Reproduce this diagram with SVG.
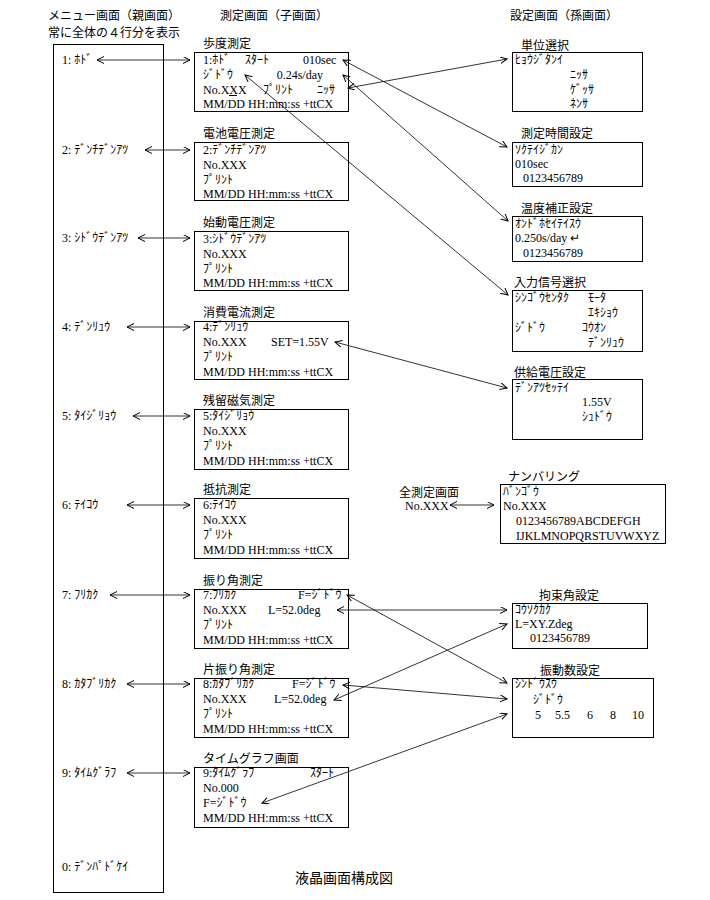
<svg xmlns="http://www.w3.org/2000/svg" width="710" height="900" viewBox="0 0 710 900">
<defs>
<style>
.bx{fill:none;stroke:#000;stroke-width:1}
.t{font-family:"Liberation Serif","Noto Sans CJK JP",serif;font-size:12px;fill:#000}
.h{font-family:"Noto Sans CJK JP","Noto Sans CJK SC",sans-serif;font-size:12px;fill:#000}
.c{stroke:#000;stroke-width:0.8;fill:none;marker-start:url(#ah);marker-end:url(#ah)}
</style>
<marker id="ah" markerUnits="userSpaceOnUse" markerWidth="9" markerHeight="8" refX="7" refY="3.5" orient="auto-start-reverse">
<path d="M0,0 L7,3.5 L0,7" fill="none" stroke="#000" stroke-width="1"/>
</marker>
</defs>
<rect width="710" height="900" fill="#fff"/>

<g id="headers">
<text class="h" x="48" y="19.5">メニュー画面（親画面）</text>
<text class="h" x="48" y="36.5">常に全体の４行分を表示</text>
<text class="h" x="220" y="19.5">測定画面（子画面）</text>
<text class="h" x="510" y="19.5">設定画面（孫画面）</text>
<text class="h" x="295" y="883" style="font-size:14px">液晶画面構成図</text>
</g>

<g id="menu">
<rect class="bx" x="53.5" y="44.5" width="110" height="848"/>
<text class="t" x="62" y="64">1: ﾎﾄﾞ</text>
<text class="t" x="62" y="154">2: ﾃﾞﾝﾁﾃﾞﾝｱﾂ</text>
<text class="t" x="62" y="242">3: ｼﾄﾞｳﾃﾞﾝｱﾂ</text>
<text class="t" x="62" y="331">4: ﾃﾞﾝﾘｭｳ</text>
<text class="t" x="62" y="420">5: ﾀｲｼﾞﾘｮｳ</text>
<text class="t" x="62" y="509">6: ﾃｲｺｳ</text>
<text class="t" x="62" y="599">7: ﾌﾘｶｸ</text>
<text class="t" x="62" y="688">8: ｶﾀﾌﾞﾘｶｸ</text>
<text class="t" x="62" y="777">9: ﾀｲﾑｸﾞﾗﾌ</text>
<text class="t" x="62" y="871">0: ﾃﾞﾝﾊﾟﾄﾞｹｲ</text>
</g>

<g id="child1">
<text class="h" x="203" y="48">歩度測定</text>
<rect class="bx" x="194.5" y="52.5" width="154" height="59"/>
<text class="t" x="203" y="64">1:ﾎﾄﾞ</text>
<text class="t" x="245" y="64">ｽﾀｰﾄ</text>
<text class="t" x="303" y="64">010sec</text>
<text class="t" x="203" y="79">ｼﾞﾄﾞｳ</text>
<text class="t" x="323" y="79" text-anchor="end">0.24s/day</text>
<text class="t" x="203" y="94">No.XXX</text>
<line x1="229" y1="95.5" x2="237" y2="95.5" stroke="#000" stroke-width="1"/>
<text class="t" x="263" y="94">ﾌﾟﾘﾝﾄ</text>
<text class="t" x="317" y="94">ﾆｯｻ</text>
<text class="t" x="203" y="108">MM/DD HH:mm:ss +ttCX</text>
</g>

<g id="child2">
<text class="h" x="203" y="138">電池電圧測定</text>
<rect class="bx" x="194.5" y="142.5" width="154" height="58"/>
<text class="t" x="203" y="154">2:ﾃﾞﾝﾁﾃﾞﾝｱﾂ</text>
<text class="t" x="203" y="169">No.XXX</text>
<text class="t" x="203" y="184">ﾌﾟﾘﾝﾄ</text>
<text class="t" x="203" y="198">MM/DD HH:mm:ss +ttCX</text>
</g>

<g id="child3">
<text class="h" x="203" y="227">始動電圧測定</text>
<rect class="bx" x="194.5" y="231.5" width="154" height="59"/>
<text class="t" x="203" y="243">3:ｼﾄﾞｳﾃﾞﾝｱﾂ</text>
<text class="t" x="203" y="258">No.XXX</text>
<text class="t" x="203" y="273">ﾌﾟﾘﾝﾄ</text>
<text class="t" x="203" y="287">MM/DD HH:mm:ss +ttCX</text>
</g>

<g id="child4">
<text class="h" x="203" y="317">消費電流測定</text>
<rect class="bx" x="194.5" y="321.5" width="154" height="58"/>
<text class="t" x="203" y="331">4:ﾃﾞﾝﾘｭｳ</text>
<text class="t" x="203" y="346">No.XXX</text>
<text class="t" x="271" y="346">SET=1.55V</text>
<text class="t" x="203" y="361">ﾌﾟﾘﾝﾄ</text>
<text class="t" x="203" y="376">MM/DD HH:mm:ss +ttCX</text>
</g>

<g id="child5">
<text class="h" x="203" y="405">残留磁気測定</text>
<rect class="bx" x="194.5" y="409.5" width="154" height="60"/>
<text class="t" x="203" y="420">5:ﾀｲｼﾞﾘｮｳ</text>
<text class="t" x="203" y="435">No.XXX</text>
<text class="t" x="203" y="450">ﾌﾟﾘﾝﾄ</text>
<text class="t" x="203" y="465">MM/DD HH:mm:ss +ttCX</text>
</g>

<g id="child6">
<text class="h" x="203" y="494">抵抗測定</text>
<rect class="bx" x="194.5" y="498.5" width="154" height="60"/>
<text class="t" x="203" y="509">6:ﾃｲｺｳ</text>
<text class="t" x="203" y="524">No.XXX</text>
<text class="t" x="203" y="539">ﾌﾟﾘﾝﾄ</text>
<text class="t" x="203" y="554">MM/DD HH:mm:ss +ttCX</text>
</g>

<g id="child7">
<text class="h" x="203" y="585">振り角測定</text>
<rect class="bx" x="194.5" y="589.5" width="154" height="59"/>
<text class="t" x="203" y="599">7:ﾌﾘｶｸ</text>
<text class="t" x="298" y="599">F=ｼﾞﾄﾞｳ</text>
<text class="t" x="203" y="614">No.XXX</text>
<text class="t" x="268" y="614">L=52.0deg</text>
<text class="t" x="203" y="629">ﾌﾟﾘﾝﾄ</text>
<text class="t" x="203" y="644">MM/DD HH:mm:ss +ttCX</text>
</g>

<g id="child8">
<text class="h" x="203" y="674">片振り角測定</text>
<rect class="bx" x="194.5" y="678.5" width="154" height="59"/>
<text class="t" x="203" y="688">8:ｶﾀﾌﾞﾘｶｸ</text>
<text class="t" x="292" y="688">F=ｼﾞﾄﾞｳ</text>
<text class="t" x="203" y="703">No.XXX</text>
<text class="t" x="274" y="703">L=52.0deg</text>
<text class="t" x="203" y="718">ﾌﾟﾘﾝﾄ</text>
<text class="t" x="203" y="733">MM/DD HH:mm:ss +ttCX</text>
</g>

<g id="child9">
<text class="h" x="203" y="763">タイムグラフ画面</text>
<rect class="bx" x="194.5" y="767.5" width="154" height="60"/>
<text class="t" x="203" y="777">9:ﾀｲﾑｸﾞﾗﾌ</text>
<text class="t" x="310" y="777">ｽﾀｰﾄ</text>
<text class="t" x="203" y="792">No.000</text>
<text class="t" x="203" y="807">F=ｼﾞﾄﾞｳ</text>
<text class="t" x="203" y="822">MM/DD HH:mm:ss +ttCX</text>
</g>

<g id="g-unit">
<text class="h" x="521" y="49.5">単位選択</text>
<rect class="bx" x="512.5" y="52.5" width="130" height="59"/>
<text class="t" x="515" y="64">ﾋｮｳｼﾞﾀﾝｲ</text>
<text class="t" x="570" y="79">ﾆｯｻ</text>
<text class="t" x="570" y="94">ｹﾞｯｻ</text>
<text class="t" x="570" y="108">ﾈﾝｻ</text>
</g>

<g id="g-time">
<text class="h" x="521" y="137.5">測定時間設定</text>
<rect class="bx" x="512.5" y="142.5" width="130" height="44"/>
<text class="t" x="515" y="154">ｿｸﾃｲｼﾞｶﾝ</text>
<text class="t" x="515" y="168">010sec</text>
<text class="t" x="523" y="182">0123456789</text>
</g>

<g id="g-temp">
<text class="h" x="521" y="212.5">温度補正設定</text>
<rect class="bx" x="512.5" y="216.5" width="130" height="45"/>
<text class="t" x="515" y="228">ｵﾝﾄﾞﾎｾｲﾃｲｽｳ</text>
<text class="t" x="515" y="242">0.250s/day ↵</text>
<text class="t" x="523" y="257">0123456789</text>
</g>

<g id="g-signal">
<text class="h" x="514" y="286.5">入力信号選択</text>
<rect class="bx" x="512.5" y="290.5" width="130" height="61"/>
<text class="t" x="515" y="302">ｼﾝｺﾞｳｾﾝﾀｸ</text>
<text class="t" x="588" y="302">ﾓｰﾀ</text>
<text class="t" x="588" y="317">ｴｷｼｮｳ</text>
<text class="t" x="515" y="332">ｼﾞﾄﾞｳ</text>
<text class="t" x="582" y="332">ｺｳｵﾝ</text>
<text class="t" x="588" y="347">ﾃﾞﾝﾘｭｳ</text>
</g>

<g id="g-volt">
<text class="h" x="514" y="376.5">供給電圧設定</text>
<rect class="bx" x="512.5" y="379.5" width="130" height="60"/>
<text class="t" x="515" y="392">ﾃﾞﾝｱﾂｾｯﾃｲ</text>
<text class="t" x="582" y="406">1.55V</text>
<text class="t" x="582" y="421">ｼｭﾄﾞｳ</text>
</g>

<g id="numbering-src">
<text class="h" x="399" y="496.5">全測定画面</text>
<text class="t" x="405" y="509.5">No.XXX</text>
</g>

<g id="g-number">
<text class="h" x="508" y="480.5">ナンバリング</text>
<rect class="bx" x="500.5" y="484.5" width="165" height="59"/>
<text class="t" x="503" y="496">ﾊﾞﾝｺﾞｳ</text>
<text class="t" x="503" y="509.5">No.XXX</text>
<text class="t" x="516" y="525">0123456789ABCDEFGH</text>
<text class="t" x="516" y="540">IJKLMNOPQRSTUVWXYZ</text>
</g>

<g id="g-angle">
<text class="h" x="539" y="599.5">拘束角設定</text>
<rect class="bx" x="512.5" y="603.5" width="135" height="45"/>
<text class="t" x="515" y="614">ｺｳｿｸｶｸ</text>
<text class="t" x="515" y="628">L=XY.Zdeg</text>
<text class="t" x="530" y="642">0123456789</text>
</g>

<g id="g-freq">
<text class="h" x="540" y="674.5">振動数設定</text>
<rect class="bx" x="512.5" y="678.5" width="141" height="59"/>
<text class="t" x="515" y="688">ｼﾝﾄﾞｳｽｳ</text>
<text class="t" x="533" y="704">ｼﾞﾄﾞｳ</text>
<text class="t" x="535" y="719">5</text>
<text class="t" x="555" y="719">5.5</text>
<text class="t" x="587" y="719">6</text>
<text class="t" x="610" y="719">8</text>
<text class="t" x="632" y="719">10</text>
</g>

<g id="connectors">
<line class="c" x1="97" y1="60" x2="190" y2="60"/>
<line class="c" x1="145" y1="150" x2="190" y2="150"/>
<line class="c" x1="138" y1="238" x2="190" y2="238"/>
<line class="c" x1="127" y1="327" x2="190" y2="327"/>
<line class="c" x1="133" y1="416" x2="190" y2="416"/>
<line class="c" x1="127" y1="505" x2="190" y2="505"/>
<line class="c" x1="110" y1="595" x2="190" y2="595"/>
<line class="c" x1="127" y1="684" x2="190" y2="684"/>
<line class="c" x1="127" y1="773" x2="190" y2="773"/>
<line class="c" x1="343" y1="60" x2="507" y2="147"/>
<line class="c" x1="348" y1="88" x2="507" y2="59"/>
<line class="c" x1="343" y1="75" x2="508" y2="221"/>
<line class="c" x1="245" y1="75" x2="508" y2="295"/>
<line class="c" x1="335" y1="342" x2="507" y2="388"/>
<line class="c" x1="450" y1="505" x2="494" y2="505"/>
<line class="c" x1="337" y1="610" x2="507" y2="610"/>
<line class="c" x1="347" y1="595" x2="507" y2="683"/>
<line class="c" x1="334" y1="700" x2="507" y2="624"/>
<line class="c" x1="343" y1="685" x2="507" y2="699"/>
<line class="c" x1="262" y1="803" x2="507" y2="714"/>
</g>
</svg>
